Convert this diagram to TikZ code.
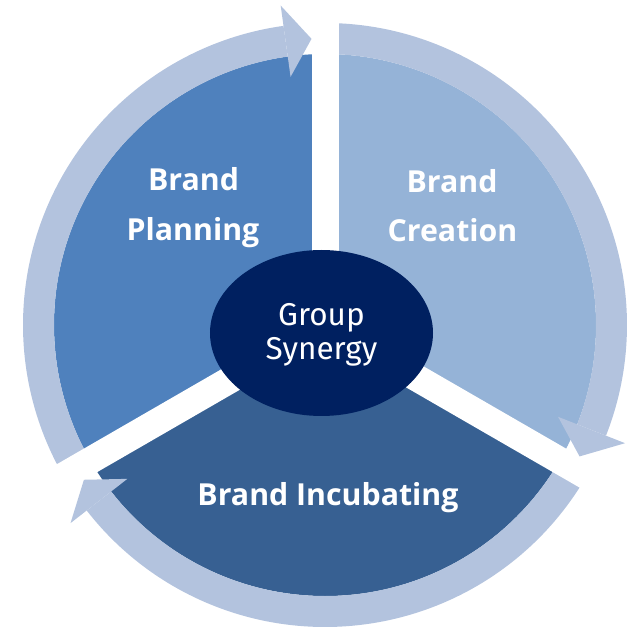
\documentclass[tikz,border=0pt]{standalone}
\usepackage{fontspec}
\newfontfamily\labfont{Open Sans}
\newfontfamily\synfont{Fira Sans}
\definecolor{planC}{HTML}{4F81BD}
\definecolor{creaC}{HTML}{95B3D7}
\definecolor{incuC}{HTML}{376092}
\definecolor{ringC}{HTML}{B3C3DE}
\definecolor{coreC}{HTML}{002060}
\tikzset{
  lab/.style={text=white, inner sep=0pt, anchor=base, font=\labfont\bfseries\fontsize{30.3}{30.3}\selectfont},
  syn/.style={text=white, inner sep=0pt, anchor=base, font=\synfont\fontsize{31.5}{31.5}\selectfont},
  gapbar/.style={fill=white},
}
% ring band: #1 start angle, #2 end angle
\newcommand{\ringband}[2]{\fill[ringC] (#1:271) arc[start angle=#1, end angle=#2, radius=271] -- (#2:302) arc[start angle=#2, end angle=#1, radius=302] -- cycle;}
% arrow head: #1 base angle, #2 tip angle
\newcommand{\ringhead}[2]{\fill[ringC] (#1:250.5) -- (#2:286.5) -- (#1:322.5) -- cycle;}
\begin{document}
\begin{tikzpicture}[x=1pt, y=1pt]
\useasboundingbox (-325,-303) rectangle (301,325);
% sectors
\fill[planC] (0,0) -- (90:271) arc[start angle=90, end angle=210, radius=271] -- cycle;
\fill[creaC] (0,0) -- (-30:271) arc[start angle=-30, end angle=90, radius=271] -- cycle;
\fill[incuC] (0,0) -- (210:271) arc[start angle=210, end angle=330, radius=271] -- cycle;
% ring bands (clockwise)
\ringband{210}{97.9}
\ringband{90}{-21.5}
\ringband{330}{217.9}
% gaps
\foreach \a in {90,-30,210} {
  \fill[gapbar, rotate=\a] (0,-13.5) rectangle (345,13.5);
}
% arrow heads
\ringhead{97.9}{92.7}
\ringhead{-21.5}{-27.3}
\ringhead{217.9}{212.7}
% core
\fill[coreC] (-3.5,-8) ellipse[x radius=111.5, y radius=83];
\node[lab] (plan1) at (-131.5,134.3) {Brand};
\node[lab] (plan2) at (-132,84.3) {Planning};
\node[lab] (crea1) at (127,132.3) {Brand};
\node[lab] (crea2) at (127.5,83.5) {Creation};
\node[lab] (incu) at (3,-180) {Brand Incubating};
\node[syn] (grp) at (-3.5,-0.7) {Group};
\node[syn] (syn) at (-3.5,-35) {Synergy};
\end{tikzpicture}
\end{document}
